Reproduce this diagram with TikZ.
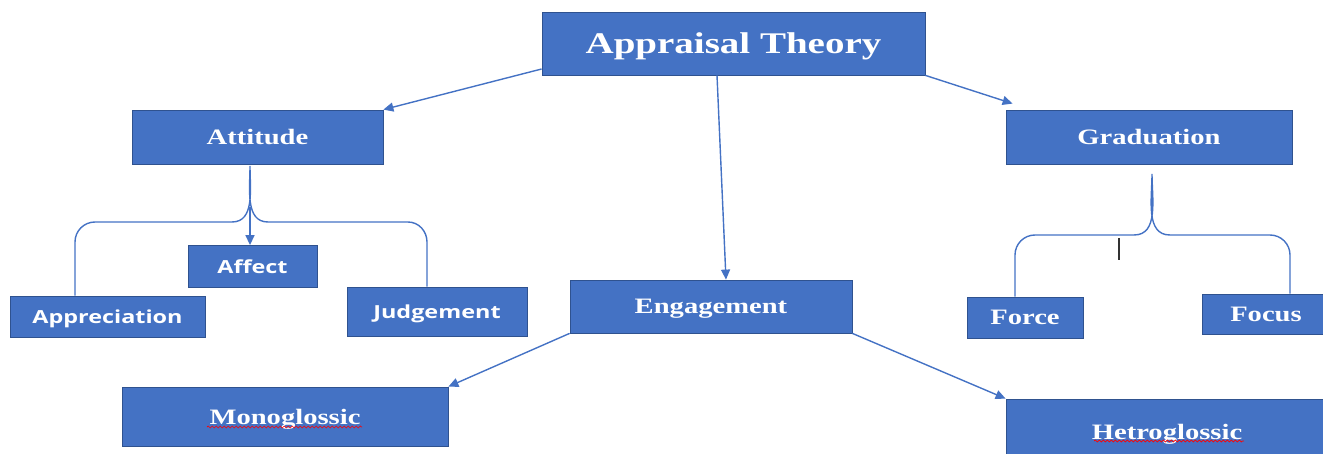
\documentclass[tikz,border=0pt]{standalone}
\usepackage{fontspec}
\setmainfont{Liberation Serif}[FakeStretch=1.3]
\newfontfamily\sansfont{Open Sans}[FakeStretch=1.3]
\usetikzlibrary{arrows.meta,decorations.pathmorphing}
\definecolor{boxblue}{HTML}{4472C4}
\definecolor{edgeblue}{HTML}{2F528F}
\definecolor{linkblue}{HTML}{4472C4}
\begin{document}
\begin{tikzpicture}[>={Triangle[length=10pt,width=9pt]},x=1pt,y=-1pt,
	box/.style={draw=edgeblue,line width=0.8pt,fill=boxblue,text=white,inner sep=0pt,text depth=0pt},
	serif/.style={font=\fontsize{22}{22}\selectfont\bfseries},
	sans/.style={font=\fontsize{18}{18}\sansfont\bfseries},
	link/.style={linkblue,line width=1.4pt},
	wave/.style={red,line width=0.7pt,decorate,decoration={snake,amplitude=1pt,segment length=4pt}}]
		\useasboundingbox (0,0) rectangle (1323,454);
		\node[box,minimum width=383,minimum height=63,font=\fontsize{30}{30}\selectfont\bfseries] (root) at (733.5,43.5) {Appraisal Theory};
		\node[box,serif,minimum width=251,minimum height=54] (att) at (257.5,137) {Attitude};
		\node[box,serif,minimum width=286,minimum height=54] (grad) at (1149,137) {Graduation};
		\node[box,serif,minimum width=282,minimum height=53] (eng) at (711,306.5) {Engagement};
		\node[box,sans,minimum width=129,minimum height=42] (aff) at (252.5,266.5) {Affect};
		\node[box,sans,minimum width=195,minimum height=41] (appr) at (107.5,316.5) {Appreciation};
		\node[box,sans,minimum width=180,minimum height=49] (judg) at (437,311.5) {Judgement};
		\node[box,serif,minimum width=116,minimum height=41] (force) at (1025,317.5) {Force};
		\node[box,serif,minimum width=128,minimum height=40] (focus) at (1266,314) {Focus};
		\node[box,serif,minimum width=326,minimum height=59] (mono) at (285,416.5) {Monoglossic};
		\node[box,serif,minimum width=322,minimum height=66] (het) at (1167,432) {Hetroglossic};
		% arrows from the root
		\draw[link,->] (root.south west |- 0,69) -- (att.north east);
		\draw[link,->] (717,0 |- root.south) -- (726,0 |- eng.north);
		\draw[link,->] (root.south east) -- ([shift={(7,-6)}]grad.north west);
		\draw[link,->] (eng.south west) -- (mono.north east);
		\draw[link,->] (eng.south east) -- (het.north west);
		% brace under Attitude
		\draw[link] (75,0 |- appr.north) -- (75,242) to[out=90,in=180] (95,222) -- (232,222) to[out=0,in=-90] (250,166)
			to[out=-90,in=180] (268,222) -- (408,222) to[out=0,in=90] (427,242) -- (427,0 |- judg.north);
		\coordinate (affin) at (250,207);
		\draw[link,->] (affin) -- (250,0 |- aff.north);
		% brace under Graduation
		\draw[link] (1015,0 |- force.north) -- (1015,255) to[out=90,in=180] (1035,235) -- (1134,235) to[out=0,in=-90] (1152,174)
			to[out=-90,in=180] (1170,235) -- (1270,235) to[out=0,in=90] (1290,255) -- (1290,0 |- focus.north);
		\draw[black!80,line width=1.4pt] (1119,238) -- (1119,260);
		% spell-check marks
		\draw[wave] (207,427) -- (362,427);
		\draw[wave] (1094,441) -- (1244,441);
	\end{tikzpicture}
\end{document}
